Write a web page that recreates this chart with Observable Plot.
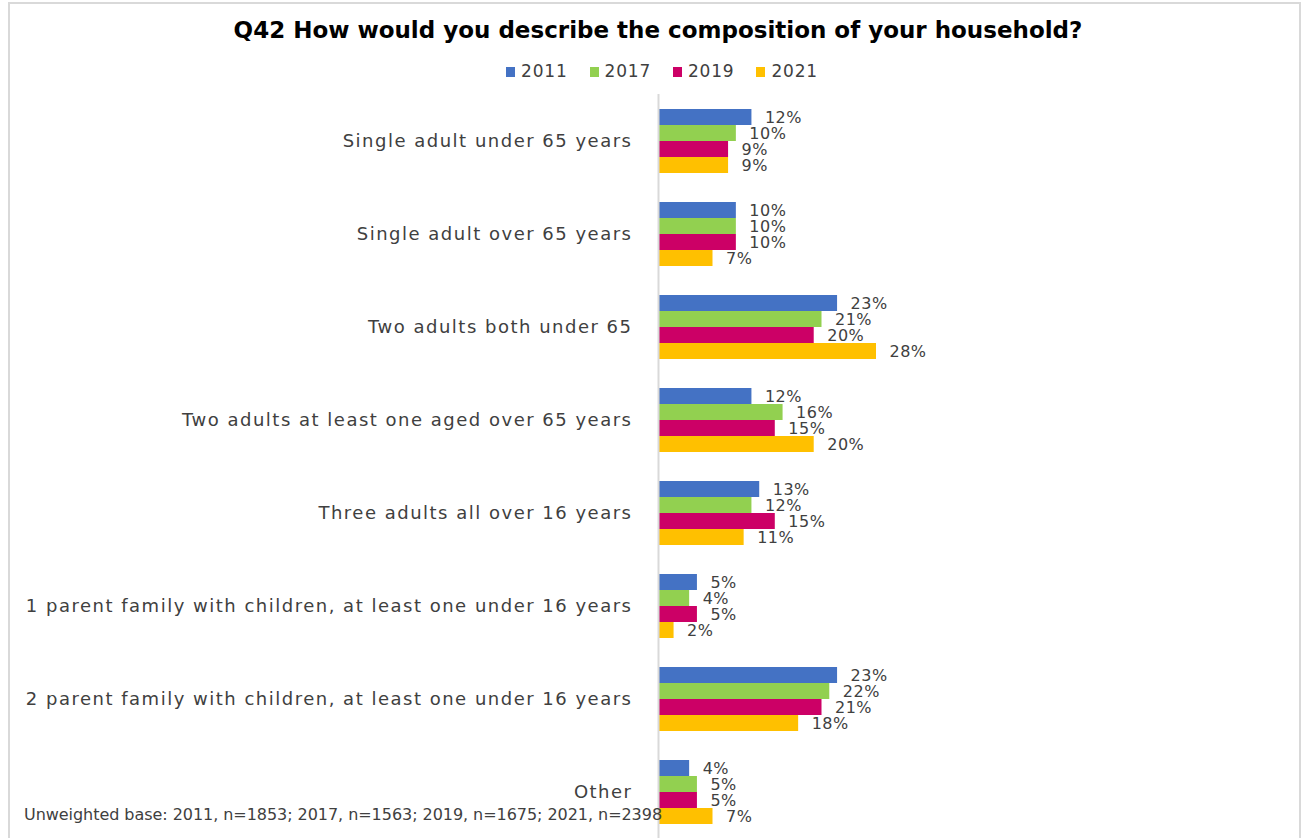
<!DOCTYPE html>
<html>
<head>
<meta charset="utf-8">
<script src="https://cdn.jsdelivr.net/npm/d3@7"></script>
<script src="https://cdn.jsdelivr.net/npm/@observablehq/plot@0.6"></script>
<style>
  body { margin: 0; background: #fff; font-family: "DejaVu Sans", sans-serif; }
  #wrap { position: relative; width: 1308px; height: 838px; overflow: hidden; }
  #frame { position: absolute; left: 8px; top: 2px; width: 1293px; height: 850px; border: 2px solid #d9d9d9; box-sizing: border-box; }
  #title { position: absolute; left: 0; width: 1308px; top: 17px; text-align: center; font-weight: bold; font-size: 23px; color: #000; letter-spacing: 0px; padding-left: 8px; box-sizing: border-box; }
  #legend { position: absolute; left: 0; width: 1308px; top: 61px; display: flex; justify-content: center; gap: 22px; font-size: 17px; color: #404040; padding-left: 16px; box-sizing: border-box; letter-spacing: 0.8px; }
  #legend span.sw { display: inline-block; width: 9px; height: 10px; margin-right: 6px; }
  #plot { position: absolute; left: 0; top: 90px; }
  #foot { position: absolute; left: 24px; top: 805px; font-size: 16px; color: #404040; letter-spacing: -0.05px; white-space: nowrap; }
  #plot g[aria-label="fy-axis tick label"] text { letter-spacing: 1.5px; }
  #plot g[aria-label="text"] text { letter-spacing: 0.5px; }
</style>
</head>
<body>
<div id="wrap">
  <div id="frame"></div>
  <div id="title">Q42 How would you describe the composition of your household?</div>
  <div id="legend"></div>
  <div id="plot"></div>
  <div id="foot">Unweighted base: 2011, n=1853; 2017, n=1563; 2019, n=1675; 2021, n=2398</div>
</div>
<script>
const categories = [
  "Single adult under 65 years",
  "Single adult over 65 years",
  "Two adults both under 65",
  "Two adults at least one aged over 65 years",
  "Three adults all over 16 years",
  "1 parent family with children, at least one under 16 years",
  "2 parent family with children, at least one under 16 years",
  "Other"
];
const years = ["2011", "2017", "2019", "2021"];
const colors = ["#4472C4", "#92D050", "#CC0066", "#FFC000"];
const v2011 = [12, 10, 23, 12, 13, 5, 23, 4];
const v2017 = [10, 10, 21, 16, 12, 4, 22, 5];
const v2019 = [9, 10, 20, 15, 15, 5, 21, 5];
const v2021 = [9, 7, 28, 20, 11, 2, 18, 7];

const series = [v2011, v2017, v2019, v2021];
const data = [];
categories.forEach((c, i) => {
  years.forEach((y, j) => data.push({category: c, year: y, value: series[j][i]}));
});

const legend = document.getElementById("legend");
years.forEach((y, j) => {
  const item = document.createElement("div");
  item.innerHTML = `<span class="sw" style="background:${colors[j]}"></span>${y}`;
  legend.appendChild(item);
});

const chart = Plot.plot({
  width: 1308,
  height: 748,
  marginLeft: 658,
  marginRight: 432,
  marginTop: 4,
  marginBottom: 0,
  style: {fontFamily: "DejaVu Sans, sans-serif", fontSize: "17px", color: "#404040", background: "transparent"},
  x: {domain: [0, 28], axis: null},
  y: {domain: years, paddingInner: 0, paddingOuter: 0.9, axis: null},
  fy: {domain: categories, padding: 0, axis: null},
  color: {domain: years, range: colors},
  marks: [
    Plot.barX(data, {x: "value", y: "year", fy: "category", fill: "year"}),
    Plot.text(data, {x: "value", y: "year", fy: "category", text: d => d.value + "%", textAnchor: "start", dx: 13, fill: "#404040", fontSize: 16}),
    Plot.ruleX([0], {stroke: "#d9d9d9", strokeWidth: 2}),
    Plot.axisFy({anchor: "left", tickSize: 0, tickPadding: 26, label: null, fill: "#404040", fontSize: 18})
  ]
});
document.getElementById("plot").appendChild(chart);
</script>
</body>
</html>
